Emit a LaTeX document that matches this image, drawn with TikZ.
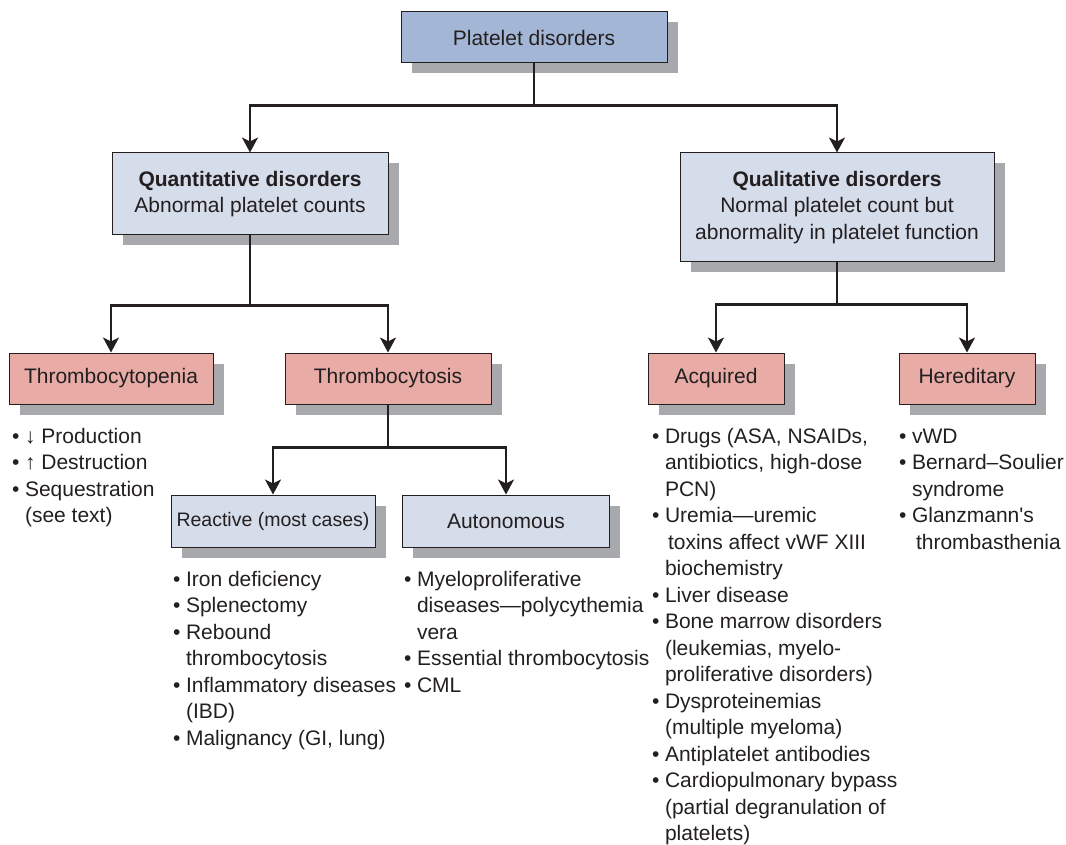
\documentclass[tikz,border=0pt]{standalone}
\usepackage{fontspec}
\setmainfont{Liberation Sans}
\usetikzlibrary{arrows.meta,positioning,shadows}
\definecolor{steel}{RGB}{164,182,214}
\definecolor{mist}{RGB}{213,220,234}
\definecolor{blush}{RGB}{232,171,166}
\definecolor{shade}{RGB}{167,169,172}
\definecolor{ink}{RGB}{35,31,32}

\newcommand{\blist}[1]{\begin{tabular}[t]{@{}l@{\hspace{5.5pt}}l@{}}#1\end{tabular}}

\tikzset{
  box/.style={draw=ink,line width=1pt,inner sep=0pt,align=center,text=ink,
    drop shadow={shadow xshift=10.5pt,shadow yshift=-10.5pt,fill=shade,opacity=1}},
  headbox/.style={box,fill=steel,minimum height=51pt},
  groupbox/.style={box,fill=mist},
  typebox/.style={box,fill=blush,minimum height=51pt},
  subbox/.style={box,fill=mist,minimum height=52pt},
  conn/.style={ink,line width=2.6pt},
  arr/.style={conn,-{Stealth[length=15pt,width=16pt,inset=4pt]}},
  items/.style={inner sep=0pt,text=ink,anchor=base west}
}

\begin{document}
\begin{tikzpicture}[x=1pt,y=-1pt,font=\fontsize{21}{26.5}\selectfont]
  \useasboundingbox (0,0) rectangle (1066,845);

  % boxes
  \node[headbox,minimum width=266pt] (root) at (534,37.5) {Platelet disorders};
  \node[groupbox,minimum width=276pt,minimum height=82pt] (quant) at (250,194)
    {\textbf{Quantitative disorders}\\Abnormal platelet counts};
  \node[groupbox,minimum width=314pt,minimum height=109pt] (qual) at (837,207.5)
    {\textbf{Qualitative disorders}\\Normal platelet count but\\abnormality in platelet function};
  \node[typebox,minimum width=204pt] (penia) at (111,378.5) {Thrombocytopenia};
  \node[typebox,minimum width=206pt] (cytosis) at (388,378.5) {Thrombocytosis};
  \node[typebox,minimum width=136pt] (acq) at (716,378.5) {Acquired};
  \node[typebox,minimum width=136pt] (hered) at (967,378.5) {Hereditary};
  \node[subbox,minimum width=204pt,font=\fontsize{19.5}{24}\selectfont] (react) at (273,521) {Reactive (most cases)};
  \node[subbox,minimum width=207pt] (auto) at (506,521) {Autonomous};

  % connectors
  \coordinate[below=42pt of root] (j1);
  \coordinate[below=70pt of quant] (j2);
  \coordinate[below=42pt of qual] (j3);
  \coordinate[below=43pt of cytosis] (j4);
  \draw[conn] (root) -- (j1);
  \draw[arr] (j1) -| (quant);
  \draw[arr] (j1) -| (qual);
  \draw[conn] (quant) -- (j2);
  \draw[arr] (j2) -| (penia);
  \draw[arr] (j2) -| (cytosis);
  \draw[conn] (qual) -- (j3);
  \draw[arr] (j3) -| (acq);
  \draw[arr] (j3) -| (hered);
  \draw[conn] (cytosis) -- (j4);
  \draw[arr] (j4) -| (react);
  \draw[arr] (j4) -| (auto);

  % lists
  \node[items] (pnlist) at (12,443) {\blist{
    • & ↓ Production\\
    • & ↑ Destruction\\
    • & Sequestration\\
      & (see text)}};
  \node[items] (rclist) at (173,586) {\blist{
    • & Iron deficiency\\
    • & Splenectomy\\
    • & Rebound\\
      & thrombocytosis\\
    • & Inflammatory diseases\\
      & (IBD)\\
    • & Malignancy (GI, lung)}};
  \node[items] (aulist) at (404,586) {\blist{
    • & Myeloproliferative\\
      & diseases—polycythemia\\
      & vera\\
    • & Essential thrombocytosis\\
    • & CML}};
  \node[items] (aqlist) at (652,443) {\blist{
    • & Drugs (ASA, NSAIDs,\\
      & antibiotics, high-dose\\
      & PCN)\\
    • & Uremia—uremic\\
      & \hspace{3pt}toxins affect vWF XIII\\
      & biochemistry\\
    • & Liver disease\\
    • & Bone marrow disorders\\
      & (leukemias, myelo-\\
      & proliferative disorders)\\
    • & Dysproteinemias\\
      & (multiple myeloma)\\
    • & Antiplatelet antibodies\\
    • & Cardiopulmonary bypass\\
      & (partial degranulation of\\
      & platelets)}};
  \node[items] (hdlist) at (899,443) {\blist{
    • & vWD\\
    • & Bernard–Soulier\\
      & syndrome\\
    • & Glanzmann\textquotesingle s\\
      & \hspace{4pt}thrombasthenia}};
\end{tikzpicture}
\end{document}
